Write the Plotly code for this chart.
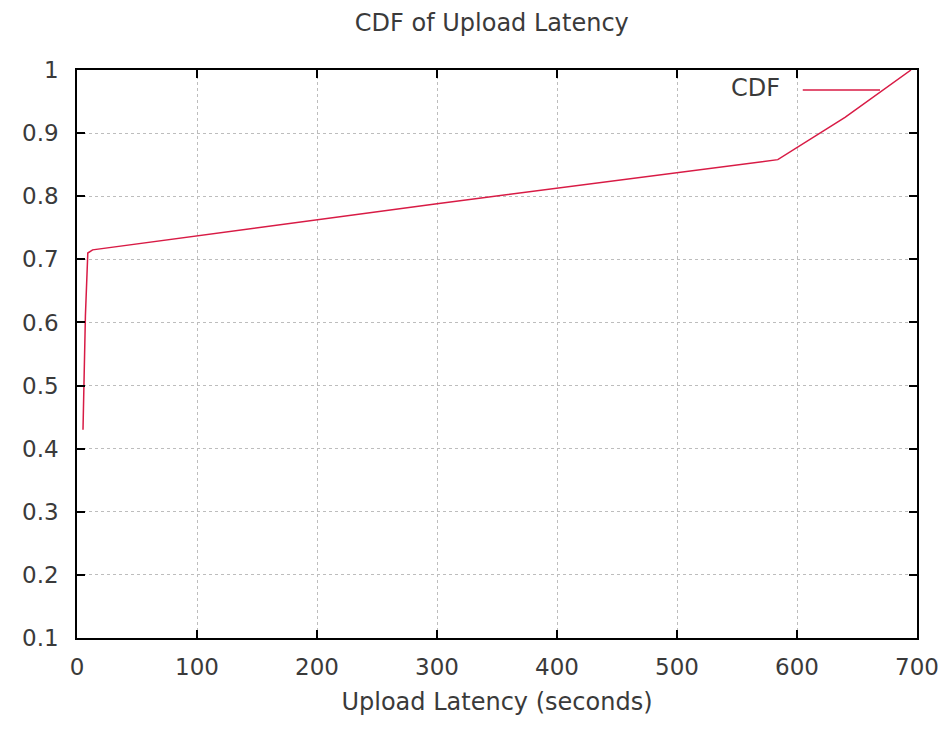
import plotly.graph_objects as go

latency = [5, 6, 7, 9, 13, 300, 584, 640, 695]
cdf = [0.43, 0.52, 0.61, 0.71, 0.715, 0.788, 0.858, 0.925, 1.0]
x_ticks = [0, 100, 200, 300, 400, 500, 600, 700]
y_ticks = [0.1, 0.2, 0.3, 0.4, 0.5, 0.6, 0.7, 0.8, 0.9, 1]
y_labels = ["0.1", "0.2", "0.3", "0.4", "0.5", "0.6", "0.7", "0.8", "0.9", "1"]

line_color = "#d81b45"
font = "DejaVu Sans, Liberation Sans, sans-serif"
text_color = "#3a3a3a"

fig = go.Figure()
fig.add_trace(go.Scatter(x=latency, y=cdf, mode="lines", name="CDF",
                         line=dict(color=line_color, width=1.5), showlegend=False))

axis_common = dict(
    showline=True, linecolor="black", linewidth=1.5, mirror="allticks",
    ticks="inside", ticklen=8, tickcolor="black", tickwidth=1.5,
    showgrid=True, gridcolor="#bdbdbd", griddash="dot", gridwidth=1,
    zeroline=False, automargin=False, ticklabeloverflow="allow",
    tickfont=dict(family=font, size=23, color=text_color),
)

fig.update_layout(
    width=944, height=729,
    paper_bgcolor="white", plot_bgcolor="white",
    margin=dict(l=77, r=27, t=70, b=91),
    title=dict(text="CDF of Upload Latency", x=0.521, xanchor="center", xref="container",
               y=0.969, yanchor="middle", yref="container",
               font=dict(family=font, size=24, color=text_color)),
    xaxis=dict(range=[0, 700], tickvals=x_ticks, ticklabelstandoff=8,
               title=dict(text="Upload Latency (seconds)", font=dict(family=font, size=24, color=text_color), standoff=14),
               **axis_common),
    yaxis=dict(range=[0.1, 1], tickvals=y_ticks, ticktext=y_labels, ticklabelstandoff=12, **axis_common),
    showlegend=False,
)

# gnuplot-style key: text then line sample
fig.add_annotation(xref="paper", yref="paper", x=0.839, y=0.968, text="CDF", showarrow=False,
                   xanchor="right", yanchor="middle", font=dict(family=font, size=24, color=text_color))
fig.add_shape(type="line", xref="paper", yref="paper", x0=0.864, x1=0.956, y0=0.965, y1=0.965,
              line=dict(color=line_color, width=1.5))

fig.write_html("out.html", config={"displayModeBar": False},
               post_script="document.body.style.margin='0';document.body.style.overflow='hidden';")
